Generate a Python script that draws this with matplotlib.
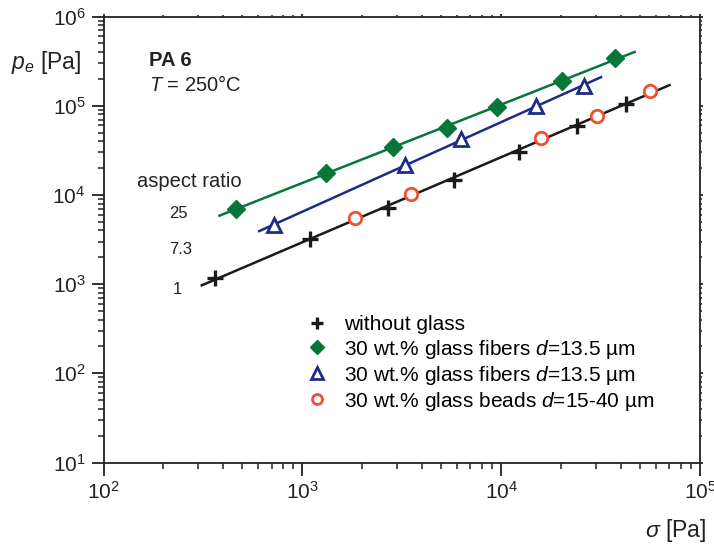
import numpy as np
import matplotlib
matplotlib.use("Agg")
import matplotlib.pyplot as plt

plt.rcParams['font.family'] = ['Liberation Sans', 'DejaVu Sans']
plt.rcParams['mathtext.fontset'] = 'custom'
plt.rcParams['mathtext.rm'] = 'Liberation Sans'
plt.rcParams['mathtext.it'] = 'Liberation Sans:italic'
plt.rcParams['mathtext.bf'] = 'Liberation Sans:bold'

# Entrance pressure drop p_e versus shear stress sigma, PA 6 at 250 °C
sigma_none = [364, 1096, 2698, 5768, 12330, 24160, 42370]
pe_none = [1162, 3177, 7180, 14690, 30270, 59200, 104500]

sigma_fib25 = [463, 1315, 2845, 5345, 9550, 20140, 37330]
pe_fib25 = [6950, 17740, 34420, 56700, 95900, 190700, 340000]

sigma_fib73 = [724, 3296, 6310, 14900, 26190]
pe_fib73 = [4600, 21650, 42350, 99300, 166300]

sigma_beads = [1845, 3532, 15810, 30200, 55840]
pe_beads = [5470, 10230, 43450, 76700, 145000]

# Power-law fit ranges (sigma) for each aspect ratio
fit_range_1 = [312, 70300]
fit_range_25 = [383, 46900]
fit_range_73 = [607, 31800]

legend_labels = [
    "without glass",
    "30 wt.% glass fibers $\\it{d}$=13.5 µm",
    "30 wt.% glass fibers $\\it{d}$=13.5 µm",
    "30 wt.% glass beads $\\it{d}$=15-40 µm",
]
aspect_labels = ["25", "7.3", "1"]

GREEN = "#077638"
BLUE = "#1f2c85"
RED = "#f0502d"
BLACK = "#1a1a1a"

W, H = 714, 544
fig = plt.figure(figsize=(W / 100, H / 100), dpi=100)
ax = fig.add_axes([103.5 / W, 1 - 462.5 / H, (700 - 103.5) / W, (462.5 - 16.5) / H])
ax.set_xscale('log')
ax.set_yscale('log')
ax.set_xlim(1e2, 1e5)
ax.set_ylim(1e1, 1e6)


def power_fit(xs, ys, xr):
    k, b = np.polyfit(np.log10(xs), np.log10(ys), 1)
    xx = np.array(xr, dtype=float)
    return xx, 10 ** (b + k * np.log10(xx))


x1, y1 = power_fit(sigma_none + sigma_beads, pe_none + pe_beads, fit_range_1)
x25, y25 = power_fit(sigma_fib25, pe_fib25, fit_range_25)
x73, y73 = power_fit(sigma_fib73, pe_fib73, fit_range_73)
ax.plot(x1, y1, color=BLACK, lw=1.8, zorder=2)
ax.plot(x25, y25, color=GREEN, lw=1.8, zorder=2)
ax.plot(x73, y73, color=BLUE, lw=1.8, zorder=2)

h1, = ax.plot(sigma_none, pe_none, ls='none', marker='+', ms=11, mew=2.4,
              color=BLACK, zorder=3)
h2, = ax.plot(sigma_fib25, pe_fib25, ls='none', marker='D', ms=9,
              color=GREEN, mec=GREEN, zorder=3)
h3, = ax.plot(sigma_fib73, pe_fib73, ls='none', marker='^', ms=10, mew=2,
              mfc='white', mec=BLUE, zorder=3)
h4, = ax.plot(sigma_beads, pe_beads, ls='none', marker='o', ms=9, mew=2,
              mfc='white', mec=RED, zorder=3)

leg = ax.legend([h1, h2, h3, h4], legend_labels, loc='upper left',
                bbox_to_anchor=(296 / W, 1 - 305 / H), bbox_transform=fig.transFigure,
                frameon=False, fontsize=15, handlelength=1.0, handletextpad=0.8,
                labelspacing=0.15, borderpad=0, markerscale=0.8)

# axes styling
for s in ax.spines.values():
    s.set_linewidth(1.3)
    s.set_color('#222222')
ax.tick_params(which='major', direction='out', length=9, width=1.3,
               labelsize=15, pad=4, colors='#222222', labelcolor='#222222')
ax.tick_params(which='minor', direction='out', length=4, width=1.1, colors='#222222')
ax.tick_params(which='both', top=True, right=True)
for t in ax.xaxis.get_major_ticks() + ax.yaxis.get_major_ticks():
    t.tick2line.set_markersize(2.5)
for t in ax.xaxis.get_minor_ticks() + ax.yaxis.get_minor_ticks():
    t.tick2line.set_markersize(1.5)

ax.yaxis.set_major_locator(matplotlib.ticker.LogLocator(base=10, numticks=10))
ax.yaxis.set_minor_locator(matplotlib.ticker.LogLocator(base=10, subs=np.arange(2, 10), numticks=20))
ax.xaxis.set_minor_locator(matplotlib.ticker.LogLocator(base=10, subs=np.arange(2, 10), numticks=20))


def px(x, y):
    return x / W, 1 - y / H


fig.text(*px(11, 62), r"$p_e$ [Pa]", fontsize=16.5, va='center', ha='left', color='#222222')
fig.text(*px(706, 531), r"$\sigma$ [Pa]", fontsize=16.5, va='center', ha='right', color='#222222')
fig.text(*px(149, 60), "PA 6", fontsize=14.5, fontweight='bold', va='center', ha='left', color='#222222')
fig.text(*px(149, 85), r"$T$ = 250°C", fontsize=14.5, va='center', ha='left', color='#222222')
fig.text(*px(137, 182), "aspect ratio", fontsize=14.5, va='center', ha='left', color='#222222')
for lab, yy, xx in zip(aspect_labels, [214, 250, 290], [169, 169, 173]):
    fig.text(*px(xx, yy), lab, fontsize=12, va='center', ha='left', color='#222222')

fig.savefig("out.png", dpi=100)
